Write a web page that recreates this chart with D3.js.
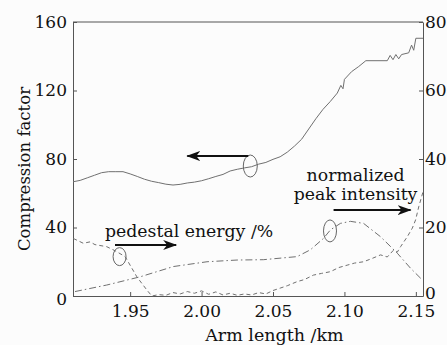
<!DOCTYPE html>
<html><head><meta charset="utf-8">
<script src="https://cdn.jsdelivr.net/npm/d3@7"></script>
<style>
html,body{margin:0;padding:0;background:#fcfcfc;}
text{font-family:"DejaVu Serif",serif;fill:#111;}
</style></head>
<body><svg id="c" width="447" height="345"></svg>
<script>
// Compression factor (left axis)
const compX = [1.91,1.915,1.92,1.925,1.93,1.935,1.94,1.945,1.95,1.955,1.96,1.965,1.97,1.975,1.98,1.985,1.99,1.995,2.00,2.005,2.01,2.015,2.02,2.025,2.03,2.035,2.04,2.045,2.05,2.055,2.06,2.065,2.07,2.075,2.08,2.085,2.09,2.095,2.0975,2.099,2.10,2.105,2.11,2.115,2.13,2.132,2.134,2.136,2.138,2.14,2.145,2.147,2.1485,2.15,2.155];
const compY = [66.7,67.5,69,70.5,72,72.6,72.6,72.6,71.3,69.8,68.2,67,66.2,65.3,64.8,65.2,66,66.5,67.3,68.5,69.8,71,73,74,74.8,75.5,77,78,79.8,81.3,84,87.5,91.5,97.5,103.5,109,113.5,118.5,123,121,126.5,131,134,137.4,137.4,140.5,138,141,138.5,141,142,146.5,143.5,150.5,150.5];
// Pedestal energy /% (right axis)
const pedX = [1.9102,1.9172,1.9219,1.9254,1.9336,1.9395,1.9465,1.9547,1.9617,1.9652,1.97,1.975,1.98,1.985,1.99,1.995,2.00,2.005,2.01,2.015,2.02,2.025,2.03,2.035,2.04,2.045,2.05,2.055,2.06,2.0669,2.072,2.0783,2.084,2.0902,2.096,2.1019,2.107,2.1134,2.119,2.1253,2.13,2.1344,2.137,2.1393,2.144,2.1475,2.1498,2.152,2.1554];
const pedY = [16.8,15.4,15.8,15.0,14.4,13.2,11.5,5.6,1.75,0,0.4,0.2,1.0,0.6,1.3,0.8,1.5,0.5,1.2,0.3,0.8,0.2,0.6,0.3,1.0,0.6,1.6,2.3,3.0,4.2,4.8,6.1,6.6,7.1,8.3,9.0,9.6,10.0,10.9,12.0,11.4,13.4,12.8,14.4,17.3,19.8,22.2,26,31];
// Normalized peak intensity (right axis)
const peakX = [1.9114,1.9336,1.957,1.9803,2.0038,2.0248,2.0432,2.0669,2.0762,2.0853,2.0902,2.0972,2.1042,2.1134,2.1253,2.137,2.1463,2.1545];
const peakY = [1.3,3.2,5.6,8.6,10,10.5,10.6,11.5,13.5,16.8,19.3,21.2,21.8,21.2,17.3,12.5,8.1,4.7];

const xTicks = [1.95,2.00,2.05,2.10,2.15];
const yLTicks = [0,40,80,120,160];
const yRTicks = [0,20,40,60,80];

const W=447,H=345, L=73, R=423, T=22, B=296;
const FONT = '"DejaVu Serif",serif';
const svg = d3.select("#c");
const x = d3.scaleLinear().domain([1.91,2.155]).range([L,R]);
const yL = d3.scaleLinear().domain([0,160]).range([B,T]);
const yR = d3.scaleLinear().domain([0,80]).range([B,T]);

const axisCol="#555";
svg.append("line").attr("x1",L).attr("x2",R).attr("y1",T).attr("y2",T).attr("stroke",axisCol);

function styleAxis(g){
  g.attr("font-family",null);
  g.select(".domain").attr("stroke",axisCol);
  g.selectAll(".tick line").attr("stroke",axisCol);
  g.selectAll("text").style("font-family",FONT).style("font-size","17px").attr("fill","#111");
}
const gx = svg.append("g").attr("transform",`translate(0,${B})`)
  .call(d3.axisBottom(x).tickValues(xTicks).tickFormat(d3.format(".2f")).tickSizeInner(-4).tickSizeOuter(0).tickPadding(9));
styleAxis(gx);
const gl = svg.append("g").attr("transform",`translate(${L},0)`)
  .call(d3.axisLeft(yL).tickValues(yLTicks).tickSizeInner(-4).tickSizeOuter(0).tickPadding(6));
styleAxis(gl);
gl.selectAll(".tick text").filter(d=>d===0).attr("dy","0.5em");
const gr = svg.append("g").attr("transform",`translate(${R},0)`)
  .call(d3.axisRight(yR).tickValues(yRTicks).tickSizeInner(-4).tickSizeOuter(0).tickPadding(2));
styleAxis(gr);
gr.selectAll(".tick text").filter(d=>d===0).attr("dy","0.12em");

const lineCol="#707070";
const lnL = d3.line().x(d=>x(d[0])).y(d=>yL(d[1]));
const lnR = d3.line().x(d=>x(d[0])).y(d=>yR(d[1]));
svg.append("path").datum(d3.zip(compX,compY)).attr("d",lnL).attr("fill","none").attr("stroke",lineCol).attr("stroke-width",1);
svg.append("path").datum(d3.zip(pedX,pedY)).attr("d",lnR).attr("fill","none").attr("stroke",lineCol).attr("stroke-width",1).attr("stroke-dasharray","4,3");
svg.append("path").datum(d3.zip(peakX,peakY)).attr("d",lnR).attr("fill","none").attr("stroke",lineCol).attr("stroke-width",1).attr("stroke-dasharray","7,3,1.5,3");

// axis titles
svg.append("text").attr("transform",`translate(30,${(T+B)/2+10}) rotate(-90)`).attr("text-anchor","middle").style("font-size","16.5px").text("Compression factor");
svg.append("text").attr("x",x(2.051)).attr("y",341).attr("text-anchor","middle").style("font-size","17.5px").text("Arm length /km");

// annotations
const defs = svg.append("defs");
defs.append("marker").attr("id","ah").attr("viewBox","0 0 14 10").attr("refX",13).attr("refY",5)
  .attr("markerWidth",14).attr("markerHeight",10).attr("markerUnits","userSpaceOnUse").attr("orient","auto")
  .append("path").attr("d","M0,0 L14,5 L0,10 L4,5 Z").attr("fill","#111");
function arrow(x1,y1,x2,y2){
  svg.append("line").attr("x1",x1).attr("y1",y1).attr("x2",x2).attr("y2",y2).attr("stroke","#111").attr("stroke-width",2).attr("marker-end","url(#ah)");
}
function ell(cx,cy,rx,ry){
  svg.append("ellipse").attr("cx",cx).attr("cy",cy).attr("rx",rx).attr("ry",ry).attr("fill","none").attr("stroke","#666").attr("stroke-width",1);
}
// compression factor
ell(x(2.0341),yL(75.9),7,11);
arrow(x(2.0327),yL(81.75),x(1.99),yL(81.75));
// pedestal
ell(x(1.9426),yR(11.5),6.5,9);
arrow(x(1.9394),yR(14.9),x(1.9822),yR(14.9));
svg.append("text").attr("x",x(1.9324)).attr("y",yR(17.1)).style("font-size","17.3px").text("pedestal energy /%");
// normalized peak intensity
ell(x(2.0899),yR(19),6.5,11);
arrow(x(2.0924),yR(25.1),x(2.1463),yR(25.1));
svg.append("text").attr("x",x(2.1078)).attr("y",yR(33.7)).attr("text-anchor","middle").style("font-size","17.3px").text("normalized");
svg.append("text").attr("x",x(2.1078)).attr("y",yR(27.9)).attr("text-anchor","middle").style("font-size","17.3px").text("peak intensity");
</script></body></html>
